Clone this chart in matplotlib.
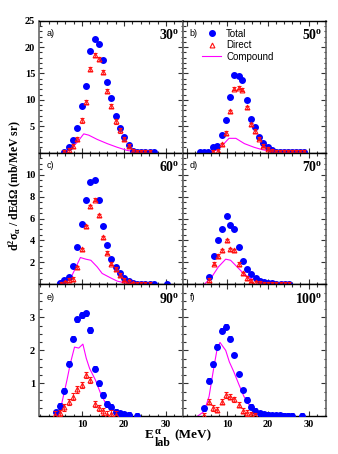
import matplotlib
matplotlib.use("Agg")
import matplotlib.pyplot as plt
from matplotlib.ticker import MultipleLocator
from matplotlib.lines import Line2D

plt.rcParams['mathtext.fontset'] = 'custom'
plt.rcParams['mathtext.rm'] = 'Liberation Serif:bold'
plt.rcParams['mathtext.it'] = 'Liberation Serif:bold'
plt.rcParams['mathtext.bf'] = 'Liberation Serif:bold'

# angle labels
angles = ['30', '50', '60', '70', '90', '100']
tags = ['a)', 'b)', 'c)', 'd)', 'e)', 'f)']

# panel a) 30 deg
tot_E_a = [5.6, 6.8, 7.8, 8.9, 9.9, 11.0, 12.0, 13.0, 14.0, 15.0, 16.0, 17.0, 18.1, 19.0, 20.1, 21.1, 22.1, 23.1, 24.1, 25.1, 26.1, 27.1]
tot_a = [0.05, 1.0, 2.4, 4.75, 8.9, 12.7, 19.3, 21.5, 20.6, 17.6, 13.4, 10.3, 6.85, 4.75, 3.0, 1.45, 0.35, 0.15, 0.1, 0.08, 0.05, 0.05]
dir_E_a = [5.8, 7.0, 7.8, 8.9, 9.9, 11.0, 12.0, 13.0, 14.0, 15.0, 16.0, 17.0, 18.1, 19.0, 20.1, 21.1, 22.1, 23.1, 24.1, 25.1, 26.1]
dir_a = [0.05, 0.5, 1.2, 2.6, 6.1, 9.6, 15.9, 18.5, 17.8, 15.3, 11.6, 8.9, 5.9, 4.2, 2.6, 1.2, 0.3, 0.15, 0.1, 0.08, 0.05]
cmp_E_a = [5.3, 7.2, 8.8, 10.4, 11.6, 13.6, 16.0, 18.4, 20.8, 23.2]
cmp_a = [0.0, 0.7, 1.9, 3.55, 3.3, 2.5, 1.7, 1.0, 0.4, 0.1]

# panel b) 50 deg
tot_E_b = [3.3, 4.3, 5.3, 6.4, 7.5, 8.6, 9.7, 10.7, 11.7, 12.8, 13.7, 14.8, 15.9, 16.9, 17.9, 18.9, 20.0, 21.0, 22.0, 23.0, 24.0, 25.0, 26.0, 27.0, 28.0, 29.0]
tot_b = [0.1, 0.1, 0.2, 1.1, 1.3, 3.4, 6.2, 10.5, 14.8, 14.6, 13.8, 10.0, 6.3, 4.8, 3.0, 1.8, 1.0, 0.4, 0.2, 0.15, 0.1, 0.1, 0.1, 0.1, 0.1, 0.1]
dir_E_b = [6.5, 7.6, 8.6, 9.7, 10.7, 11.7, 12.8, 13.7, 14.8, 15.9, 16.9, 17.9, 18.9, 20.0, 21.0, 22.0, 23.0, 24.0, 25.0, 26.0, 27.0, 28.0, 29.0]
dir_b = [0.1, 0.3, 1.6, 3.7, 7.8, 12.1, 12.3, 11.9, 8.6, 5.4, 4.1, 2.6, 1.3, 0.7, 0.3, 0.15, 0.1, 0.1, 0.1, 0.1, 0.1, 0.1, 0.1]
cmp_E_b = [4.5, 7.6, 9.2, 10.4, 12.1, 14.2, 16.6, 18.6, 20.6, 23.0]
cmp_b = [0.0, 0.5, 1.7, 2.7, 2.7, 1.7, 1.0, 0.55, 0.25, 0.1]

# panel c) 60 deg
tot_E_c = [4.8, 5.8, 6.9, 7.8, 8.9, 9.9, 11.0, 12.0, 13.0, 14.0, 15.0, 16.0, 17.0, 18.1, 19.0, 20.1, 21.1, 22.1, 23.1, 24.1, 25.1, 26.1, 27.1, 30.2]
tot_c = [0.1, 0.4, 0.7, 1.65, 3.4, 5.5, 7.65, 9.3, 9.5, 7.7, 5.3, 3.6, 2.3, 1.55, 1.0, 0.55, 0.3, 0.1, 0.08, 0.05, 0.05, 0.05, 0.05, 0.02]
dir_E_c = [5.0, 6.0, 7.0, 7.8, 8.9, 9.9, 11.0, 12.0, 13.0, 14.0, 15.0, 16.0, 17.0, 18.1, 19.0, 20.1, 21.1, 22.1, 23.1, 24.1, 25.1, 26.1]
dir_c = [0.05, 0.2, 0.4, 0.5, 1.55, 3.2, 5.3, 7.1, 7.7, 6.3, 4.3, 2.9, 1.9, 1.4, 0.85, 0.45, 0.3, 0.1, 0.08, 0.05, 0.05, 0.05]
cmp_E_c = [4.6, 7.2, 8.2, 9.6, 10.9, 12.1, 13.6, 14.8, 16.8, 18.4, 20.8, 23.0]
cmp_c = [0.0, 0.5, 1.3, 2.45, 2.3, 2.2, 1.6, 1.0, 0.6, 0.3, 0.1, 0.05]

# panel d) 70 deg
tot_E_d = [5.5, 6.6, 7.6, 8.7, 9.8, 10.7, 11.7, 12.8, 13.8, 14.9, 15.9, 17.0, 18.1, 19.1, 20.1, 21.1, 22.1, 23.1, 24.1, 25.1]
tot_d = [0.7, 2.6, 4.0, 5.0, 6.2, 5.4, 5.0, 3.4, 2.15, 1.45, 0.95, 0.6, 0.35, 0.2, 0.12, 0.1, 0.08, 0.05, 0.05, 0.05]
dir_E_d = [5.5, 6.6, 7.6, 8.7, 9.8, 10.7, 11.7, 12.8, 13.8, 14.9, 15.9, 17.0, 18.1, 19.1, 20.1, 21.1, 22.1, 23.1, 24.1, 25.1]
dir_d = [0.4, 1.9, 2.6, 3.1, 4.0, 3.2, 3.1, 1.85, 1.0, 0.6, 0.35, 0.2, 0.12, 0.08, 0.05, 0.05, 0.05, 0.05, 0.05, 0.05]
cmp_E_d = [4.3, 6.2, 7.8, 9.6, 10.8, 12.4, 14.0, 15.6, 18.1, 20.5, 23.8]
cmp_d = [0.0, 0.7, 1.6, 2.3, 2.2, 1.6, 1.0, 0.55, 0.25, 0.1, 0.05]

# panel e) 90 deg
tot_E_e = [3.8, 4.8, 5.8, 6.9, 7.8, 8.9, 9.9, 11.0, 12.0, 13.0, 14.0, 15.0, 16.0, 17.0, 18.1, 19.0, 20.1, 21.1, 23.1]
tot_e = [0.12, 0.31, 0.78, 1.6, 2.36, 2.94, 3.07, 3.12, 2.62, 1.45, 1.0, 0.65, 0.37, 0.29, 0.14, 0.09, 0.06, 0.04, 0.02]
dir_E_e = [3.6, 4.8, 5.8, 6.9, 7.8, 8.9, 9.9, 11.0, 12.0, 13.0, 14.0, 15.0, 16.0, 17.0, 18.1]
dir_e = [0.05, 0.1, 0.27, 0.44, 0.6, 0.82, 0.95, 1.25, 1.1, 0.37, 0.25, 0.15, 0.05, 0.08, 0.05]
cmp_E_e = [3.4, 4.8, 6.4, 7.2, 8.2, 9.2, 10.2, 11.0, 11.8, 13.2, 14.4, 15.6, 17.2, 19.2, 21.6]
cmp_e = [0.0, 0.19, 1.1, 1.6, 2.1, 2.07, 2.19, 1.76, 1.45, 1.1, 0.7, 0.4, 0.2, 0.1, 0.05]

# panel f) 100 deg
tot_E_f = [4.3, 5.5, 6.5, 7.5, 8.6, 9.7, 10.7, 11.7, 12.8, 13.8, 14.8, 15.9, 16.9, 18.0, 19.0, 20.0, 21.0, 22.0, 23.0, 24.0, 25.0, 26.0, 28.4]
tot_f = [0.24, 1.08, 1.58, 2.11, 2.6, 2.72, 2.36, 1.86, 1.28, 0.8, 0.51, 0.29, 0.17, 0.1, 0.06, 0.05, 0.04, 0.03, 0.03, 0.02, 0.02, 0.02, 0.02]
dir_E_f = [4.3, 5.5, 6.5, 7.5, 8.6, 9.7, 10.7, 11.7, 12.8, 13.8, 14.8, 15.9, 16.9]
dir_f = [0.02, 0.44, 0.25, 0.2, 0.44, 0.65, 0.6, 0.52, 0.35, 0.17, 0.1, 0.06, 0.03]
cmp_E_f = [2.6, 4.3, 5.5, 6.7, 7.5, 8.2, 9.6, 10.5, 11.6, 12.9, 14.1, 15.7, 17.4, 19.8, 23.0]
cmp_f = [0.0, 0.15, 0.6, 1.5, 2.05, 2.24, 2.0, 1.65, 1.35, 0.95, 0.6, 0.28, 0.12, 0.05, 0.02]

# error bar sizes per panel (total, direct)
tot_err = [0.0, 0.0, 0.0, 0.0, 0.08, 0.07]
dir_err = [0.4, 0.3, 0.15, 0.15, 0.1, 0.08]

panels = [
    (tot_E_a, tot_a, dir_E_a, dir_a, cmp_E_a, cmp_a),
    (tot_E_b, tot_b, dir_E_b, dir_b, cmp_E_b, cmp_b),
    (tot_E_c, tot_c, dir_E_c, dir_c, cmp_E_c, cmp_c),
    (tot_E_d, tot_d, dir_E_d, dir_d, cmp_E_d, cmp_d),
    (tot_E_e, tot_e, dir_E_e, dir_e, cmp_E_e, cmp_e),
    (tot_E_f, tot_f, dir_E_f, dir_f, cmp_E_f, cmp_f),
]

ylims = [25, 12, 4]
ymajor = [5, 2, 1]
yminor = [1, 0.5, 0.25]

serif = 'Liberation Serif'
sans = 'Liberation Sans'
blue = '#0000ff'
red = '#ff1010'
mag = '#ff00ff'

fig, axes = plt.subplots(3, 2, figsize=(3.38, 4.54), dpi=100)
fig.subplots_adjust(left=0.1163, right=0.9645, top=0.9544, bottom=0.083,
                    hspace=0, wspace=0)

for i, ax in enumerate(axes.flat):
    row, col = divmod(i, 2)
    tE, t, dE, d, cE, c = panels[i]
    ax.plot(cE, c, color=mag, lw=0.8, zorder=2)
    if tot_err[i] > 0:
        ax.errorbar(tE, t, yerr=tot_err[i], fmt='o', color=blue, ms=4,
                    elinewidth=0.7, capsize=1.5, capthick=0.7, zorder=3)
    else:
        ax.plot(tE, t, 'o', color=blue, ms=4, zorder=3)
    ax.errorbar(dE, d, yerr=dir_err[i], fmt='^', mfc='none', mec=red,
                ecolor=red, ms=3.5, mew=0.8, elinewidth=0.6, capsize=1.5,
                capthick=0.6, zorder=4)

    if col == 0:
        ax.set_xlim(-0.2, 34.0)
    else:
        ax.set_xlim(-1.0, 34.3)
    ax.set_ylim(0, ylims[row])
    ax.xaxis.set_major_locator(MultipleLocator(10))
    ax.xaxis.set_minor_locator(MultipleLocator(2))
    ax.yaxis.set_major_locator(MultipleLocator(ymajor[row]))
    ax.yaxis.set_minor_locator(MultipleLocator(yminor[row]))
    ax.tick_params(which='both', direction='in', top=True, right=True,
                   width=0.8, color='#333333')
    ax.tick_params(which='major', length=3.5)
    ax.tick_params(which='minor', length=1.8)

    for s in ['left', 'right']:
        ax.spines[s].set_color('#666666')
        ax.spines[s].set_linewidth(1.2)
    for s in ['top', 'bottom']:
        ax.spines[s].set_color('black')
        ax.spines[s].set_linewidth(1.0)

    if col == 0:
        ticks = [v for v in ax.get_yticks() if 0 < v <= ylims[row] and not (row > 0 and v == ylims[row])]
        ax.set_yticks(ticks)
        ax.set_yticklabels(['%g' % v for v in ticks], fontfamily=serif,
                           fontweight='bold', fontsize=7.5)
    else:
        ax.set_yticklabels([])
    if row == 2:
        ax.set_xticks([10, 20, 30])
        ax.set_xticklabels(['10', '20', '30'], fontfamily=serif,
                           fontweight='bold', fontsize=7.5)
    else:
        ax.set_xticklabels([])
    ax.tick_params(axis='both', pad=3)

    ax.text(0.05, 0.935, tags[i], transform=ax.transAxes, ha='left', va='top',
            fontsize=6.5, fontfamily=sans)
    ax.text(0.975, 0.945, angles[i] + r'$^\mathregular{o}$', transform=ax.transAxes,
            ha='right', va='top', fontsize=10, fontfamily=serif, fontweight='bold')

# legend in panel b
handles = [
    Line2D([], [], ls='none', marker='o', color=blue, ms=4),
    Line2D([], [], ls='none', marker='^', mfc='none', mec=red, ms=3.5, mew=0.8),
    Line2D([], [], color=mag, lw=0.8),
]
axes[0, 1].legend(handles, ['Total', 'Direct', 'Compound'], loc='upper left',
                  bbox_to_anchor=(0.1, 0.975), frameon=False, borderpad=0,
                  handlelength=2.0, handletextpad=0.5, labelspacing=0.15,
                  prop={'family': sans, 'size': 7})

fig.text(0.047, 0.592, r'd$^2$$\sigma_\alpha$ / dEd$\Omega$ (mb/MeV sr)',
         rotation=90, ha='center', va='center', fontsize=8.5,
         fontfamily=serif, fontweight='bold')

# x label built from pieces so that "lab" keeps a large size
lab_kw = dict(fontfamily=serif, fontweight='bold')
tE_ = fig.text(145 / 338, 1 - 438 / 454, 'E', ha='left', va='baseline',
               fontsize=9.5, **lab_kw)
plt.annotate(r'$\alpha$', xy=(1, 0.6), xycoords=tE_, xytext=(0.3, 0),
             textcoords='offset points', fontsize=7.5, va='baseline', ha='left',
             annotation_clip=False, **lab_kw)
t_lab = plt.annotate('lab', xy=(1, 0), xycoords=tE_, xytext=(0.3, -3.5),
                     textcoords='offset points', fontsize=8.5, va='baseline',
                     ha='left', annotation_clip=False, **lab_kw)
plt.annotate('(MeV)', xy=(1, 0), xycoords=(t_lab, tE_), xytext=(3, 0),
             textcoords='offset points', fontsize=9.5, va='bottom', ha='left',
             annotation_clip=False, **lab_kw)

fig.savefig('out.png', dpi=100)
